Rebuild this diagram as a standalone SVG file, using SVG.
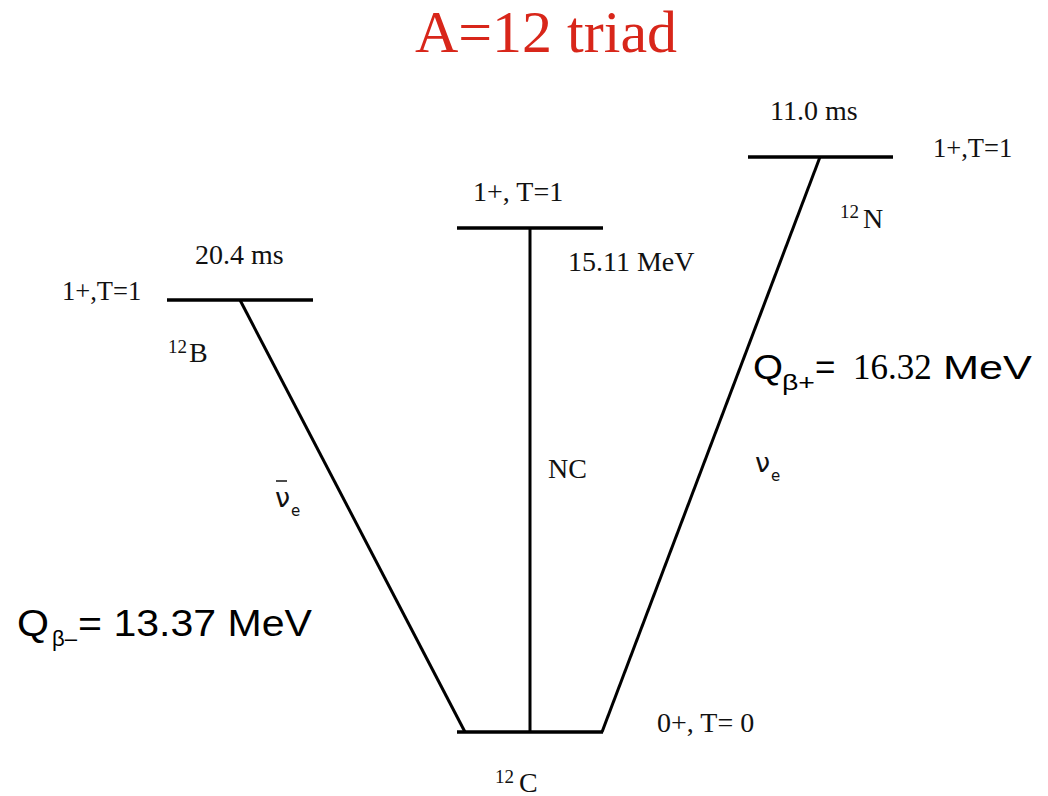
<svg xmlns="http://www.w3.org/2000/svg" width="1048" height="796" viewBox="0 0 1048 796">
<style>
.lvl{stroke:#000;stroke-width:3.5;fill:none;stroke-linecap:butt}
.con{stroke:#000;stroke-width:3;fill:none}
.s{font-family:"Liberation Serif","Times New Roman",serif;font-size:28px;fill:#111}
.sup{font-family:"Liberation Serif","Times New Roman",serif;font-size:19px;fill:#111}
.q{font-family:"Liberation Sans",Arial,sans-serif;fill:#000}
.nu{font-family:"DejaVu Sans",sans-serif;font-size:27px;fill:#111}
.nus{font-family:"DejaVu Sans",sans-serif;font-size:15px;fill:#111}
</style>
<rect width="1048" height="796" fill="#fff"/>
<text id="title" x="546" y="52" text-anchor="middle" font-family="Liberation Serif,'Times New Roman',serif" font-size="60" fill="#d8261a">A=12 triad</text>

<g id="connectors">
  <line class="con" x1="240" y1="300" x2="465" y2="732"/>
  <line class="con" x1="530" y1="228" x2="530" y2="732"/>
  <line class="con" x1="820" y1="157" x2="602" y2="732"/>
</g>

<g id="B12">
  <line class="lvl" x1="167" y1="300" x2="313" y2="300"/>
  <text class="s" x="195" y="264">20.4 ms</text>
  <text class="s" x="62" y="300" style="font-size:26.5px">1+,T=1</text>
  <text class="sup" x="168" y="353">12</text>
  <text class="s" x="189" y="362">B</text>
</g>

<g id="C12star">
  <line class="lvl" x1="457" y1="228" x2="603" y2="228"/>
  <text class="s" x="473" y="201">1+, T=1</text>
  <text class="s" x="568" y="271">15.11 MeV</text>
</g>

<g id="N12">
  <line class="lvl" x1="748" y1="157" x2="893" y2="157"/>
  <text class="s" x="770" y="120">11.0 ms</text>
  <text class="s" x="933" y="157" style="font-size:26.5px">1+,T=1</text>
  <text class="sup" x="840" y="218">12</text>
  <text class="s" x="863" y="228">N</text>
</g>

<g id="C12">
  <line class="lvl" x1="457" y1="732" x2="603" y2="732"/>
  <text class="s" x="657" y="732">0+, T= 0</text>
  <text class="sup" x="495" y="783">12</text>
  <text class="s" x="519" y="792">C</text>
</g>

<g id="labels">
  <text class="s" x="548" y="478">NC</text>
  <line x1="276" y1="481" x2="287" y2="481" stroke="#111" stroke-width="1.5"/>
  <text class="nu" x="275" y="507">ν</text>
  <text class="nus" x="291" y="516">e</text>
  <text class="nu" x="755" y="472">ν</text>
  <text class="nus" x="771" y="481">e</text>
</g>

<g id="Qminus">
  <text class="q" x="17" y="636" font-size="36" textLength="32" lengthAdjust="spacingAndGlyphs">Q</text>
  <text class="q" x="52" y="646" font-size="22" textLength="25" lengthAdjust="spacingAndGlyphs">β–</text>
  <text class="q" x="78" y="636" font-size="36" textLength="234" lengthAdjust="spacingAndGlyphs">= 13.37 MeV</text>
</g>

<g id="Qplus">
  <text class="q" x="753" y="379" font-size="35" textLength="30" lengthAdjust="spacingAndGlyphs">Q</text>
  <text class="q" x="782" y="390" font-size="22" textLength="33" lengthAdjust="spacingAndGlyphs">β+</text>
  <text class="q" x="815" y="379" font-size="35">=</text>
  <text x="853" y="379" font-family="Liberation Serif,'Times New Roman',serif" font-size="35" fill="#000">16.32</text>
  <text class="q" x="943" y="379" font-size="33" textLength="89" lengthAdjust="spacingAndGlyphs">MeV</text>
</g>
</svg>
